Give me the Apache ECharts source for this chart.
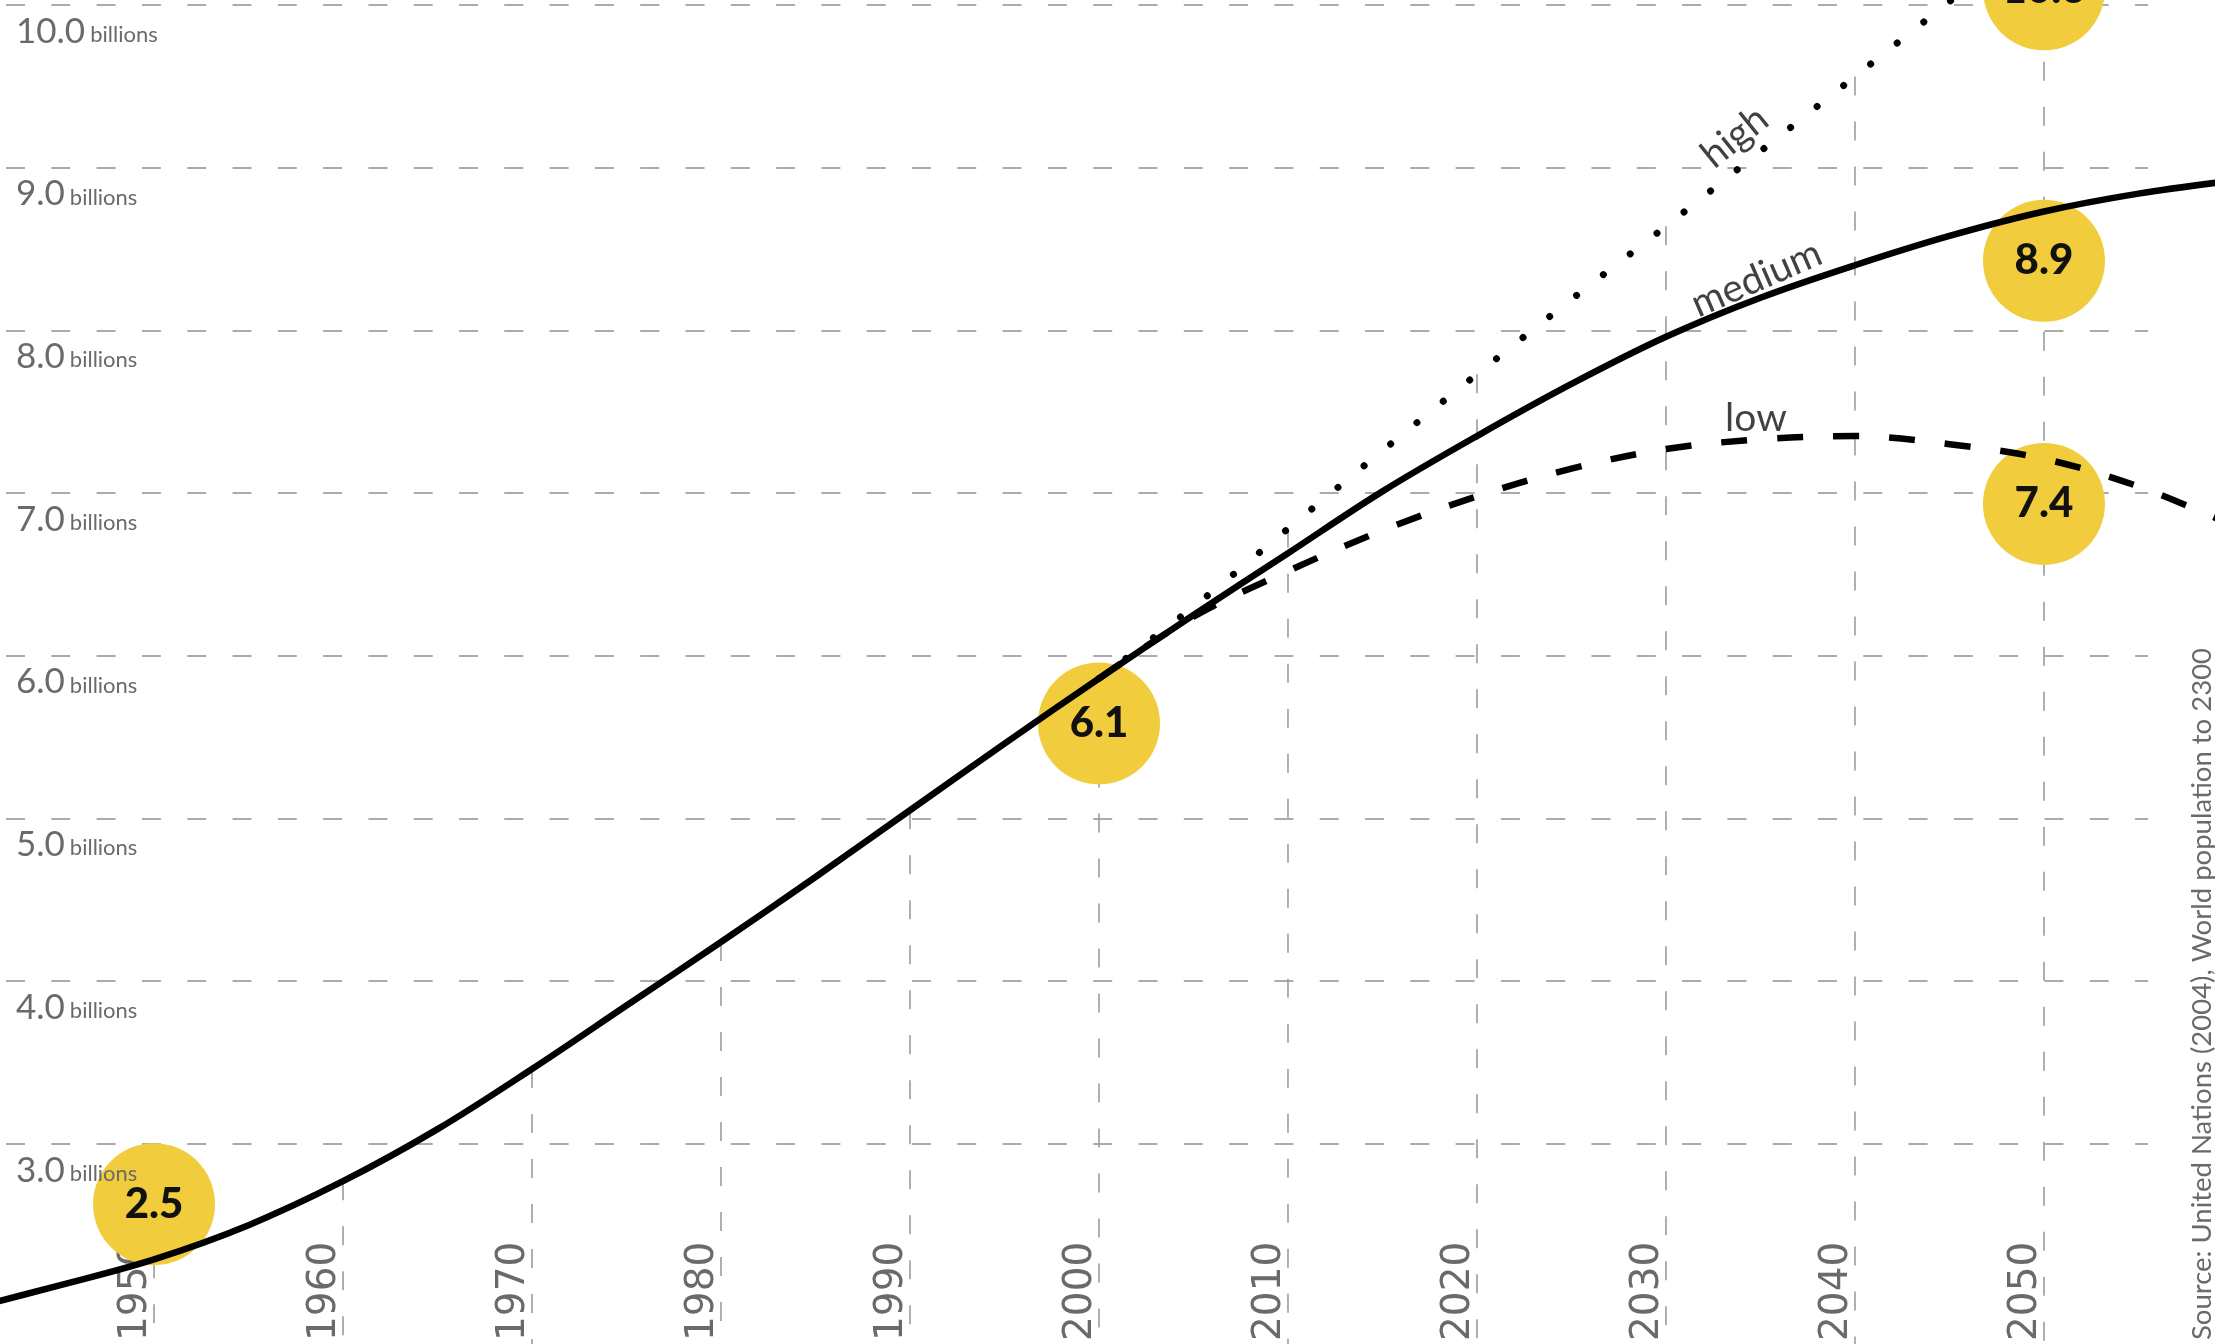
<!DOCTYPE html>
<html>
<head>
<meta charset="utf-8">
<script src="https://cdn.jsdelivr.net/npm/echarts@6/dist/echarts.min.js"></script>
<style>
  html, body { margin: 0; padding: 0; background: #ffffff; }
  #chart { width: 2215px; height: 1344px; }
</style>
</head>
<body>
<div id="chart"></div>
<script>
// World population, estimates and UN 2004 projection variants (billions)
const mediumYears  = [1940, 1945, 1950, 1955, 1960, 1965, 1970, 1975, 1980, 1985, 1990, 1995, 2000, 2005, 2010, 2015, 2020, 2025, 2030, 2035, 2040, 2045, 2050, 2055, 2060];
const mediumValues = [1.98, 2.13, 2.29, 2.50, 2.77, 3.09, 3.46, 3.85, 4.24, 4.64, 5.05, 5.46, 5.86, 6.25, 6.63, 7.01, 7.35, 7.67, 7.96, 8.20, 8.40, 8.58, 8.73, 8.84, 8.92];

const variantYears = [2000, 2005, 2010, 2015, 2020, 2025, 2030, 2035, 2040, 2045, 2050, 2055, 2060];
const highValues   = [5.86, 6.30, 6.78, 7.26, 7.73, 8.19, 8.64, 9.10, 9.56, 10.02, 10.48, 10.93, 11.38];
const lowValues    = [5.86, 6.24, 6.52, 6.77, 6.98, 7.15, 7.27, 7.33, 7.35, 7.30, 7.21, 7.04, 6.80];

// Highlighted figures
const calloutYears  = [1950, 2000, 2050, 2050, 2050];
const calloutValues = [2.5, 6.1, 10.6, 8.9, 7.4];

// Axis ticks
const decadeTicks = [1950, 1960, 1970, 1980, 1990, 2000, 2010, 2020, 2030, 2040, 2050];
const valueTicks  = [3, 4, 5, 6, 7, 8, 9, 10];
const unitLabel   = 'billions';
const sourceText  = 'Source: United Nations (2004), World population to 2300';

const pairs = (xs, ys) => xs.map((x, i) => [x, ys[i]]);
const mediumData = pairs(mediumYears, mediumValues);
const highData   = pairs(variantYears, highValues);
const lowData    = pairs(variantYears, lowValues);

// linear lookup along a series
function valueAt(data, year) {
  for (let i = 0; i < data.length - 1; i++) {
    const [x0, y0] = data[i], [x1, y1] = data[i + 1];
    if (year >= x0 && year <= x1) return y0 + (y1 - y0) * (year - x0) / (x1 - x0);
  }
  return null;
}

// each decade line drops from the uppermost curve to the bottom edge
const dropData = decadeTicks.map(y => {
  const tops = [valueAt(mediumData, y), valueAt(highData, y)].filter(v => v !== null);
  return [y, Math.max.apply(null, tops)];
});

const Y_BOTTOM = 1.7695;
const textGrey = '#6a6a6a';

// yellow discs sit a little off the curve point they describe
const calloutShift = [-21, 84, 82, 77, 76];
const calloutData = calloutYears.map((y, i) => ({
  value: [y, calloutValues[i]],
  symbolOffset: [0, calloutShift[i]]
}));

// scenario names written along their curves (offset is in the rotated text frame)
const nameTags = [
  { name: 'high',   data: highData,   year: 2033.55, rotate: 39,   offset: [24, -27] },
  { name: 'medium', data: mediumData, year: 2034.8,  rotate: 23.5, offset: [8, -19] },
  { name: 'low',    data: lowData,    year: 2034.76, rotate: 0,    offset: [0, -21] }
];
const tagData = nameTags.map(t => ({
  name: t.name,
  value: [t.year, valueAt(t.data, t.year)],
  label: { rotate: t.rotate, offset: t.offset }
}));

const chart = echarts.init(document.getElementById('chart'), null, { renderer: 'canvas' });

const curveStyle = { smooth: 0.35, showSymbol: false, xAxisIndex: 0, yAxisIndex: 0 };

chart.setOption({
  animation: false,
  backgroundColor: '#ffffff',
  grid: [
    { left: 0, right: 0, top: 0, bottom: 0 },
    { left: 6, right: 67, top: 4.9, bottom: 200.2 },
    { left: 154, right: 171, top: 0, bottom: 0 },
    { left: 6, right: 67, top: 4.9, bottom: 200.2 }
  ],
  xAxis: [
    { gridIndex: 0, type: 'value', min: 1941.85, max: 2059.05, show: false },
    { gridIndex: 1, type: 'value', min: 0, max: 1, show: false },
    {
      gridIndex: 2, type: 'value', min: decadeTicks[0], max: decadeTicks[decadeTicks.length - 1], interval: 10,
      axisLine: { show: false }, axisTick: { show: false }, splitLine: { show: false },
      axisLabel: {
        inside: true, rotate: 90, margin: 3, align: 'left', verticalAlign: 'bottom',
        fontFamily: 'DejaVu Sans', fontSize: 39, lineHeight: 36, color: textGrey,
        formatter: v => String(v)
      }
    },
    { gridIndex: 3, type: 'value', min: 0, max: 1, show: false }
  ],
  yAxis: [
    { gridIndex: 0, type: 'value', min: Y_BOTTOM, max: 10.0301, show: false },
    {
      gridIndex: 1, type: 'value', min: valueTicks[0], max: valueTicks[valueTicks.length - 1], interval: 1,
      axisLine: { show: false }, axisTick: { show: false }, axisLabel: { show: false },
      splitLine: { show: true, lineStyle: { color: '#ababab', width: 2, type: [19, 26.3] } }
    },
    { gridIndex: 2, type: 'value', min: 0, max: 1, show: false },
    {
      gridIndex: 3, type: 'value', min: valueTicks[0], max: valueTicks[valueTicks.length - 1], interval: 1, z: 10,
      axisLine: { show: false }, axisTick: { show: false }, splitLine: { show: false },
      axisLabel: {
        inside: true, margin: 10, verticalAlign: 'top',
        formatter: v => '{n|' + v.toFixed(1) + '}{u|' + unitLabel + '}',
        rich: {
          n: { fontFamily: 'Lato', fontSize: 35, color: textGrey, lineHeight: 44, verticalAlign: 'bottom', padding: [4, 0, 0, 0] },
          u: { fontFamily: 'Lato', fontSize: 22, color: textGrey, lineHeight: 44, verticalAlign: 'bottom', padding: [0, 0, 3, 5] }
        }
      }
    }
  ],
  graphic: [
    {
      type: 'text', x: 2216, y: 1340, rotation: Math.PI / 2, z: 20,
      style: {
        text: sourceText, fontFamily: 'Lato', fontSize: 27.5, fill: textGrey,
        align: 'left', verticalAlign: 'bottom', textAlign: 'left', textVerticalAlign: 'bottom'
      }
    }
  ],
  series: [
    {
      name: 'decades', type: 'custom', xAxisIndex: 0, yAxisIndex: 0, z: 1, clip: true,
      data: dropData,
      renderItem: (params, api) => {
        const top = api.coord([api.value(0), api.value(1)]);
        const bottom = api.coord([api.value(0), Y_BOTTOM]);
        return {
          type: 'line',
          shape: { x1: top[0], y1: top[1], x2: bottom[0], y2: bottom[1] },
          style: { stroke: '#9c9c9c', lineWidth: 1.6, lineDash: [19, 26] }
        };
      }
    },
    {
      name: 'callouts', type: 'scatter', xAxisIndex: 0, yAxisIndex: 0, z: 2, clip: false,
      symbol: 'circle', symbolSize: 122,
      itemStyle: { color: '#F1CD3D', opacity: 1 },
      label: {
        show: true, position: 'inside',
        formatter: p => p.value[1].toFixed(1),
        fontFamily: 'Lato', fontWeight: 900, fontSize: 42, color: '#111111'
      },
      data: calloutData
    },
    Object.assign({
      name: 'low', type: 'line', z: 3, data: lowData,
      lineStyle: { color: '#000000', width: 6.5, type: [26, 30], cap: 'butt' }
    }, curveStyle),
    Object.assign({
      name: 'high', type: 'line', z: 3, data: highData,
      lineStyle: { color: '#000000', width: 7, type: [0.01, 34], cap: 'round' }
    }, curveStyle),
    Object.assign({
      name: 'medium', type: 'line', z: 4, data: mediumData,
      lineStyle: { color: '#000000', width: 6.5 }
    }, curveStyle),
    {
      name: 'scenario names', type: 'scatter', xAxisIndex: 0, yAxisIndex: 0, z: 5,
      symbolSize: 0, silent: true,
      label: {
        show: true, position: 'inside', formatter: p => p.name,
        fontFamily: 'Lato', fontSize: 39, color: '#111111'
      },
      data: tagData
    }
  ]
});
</script>
</body>
</html>
